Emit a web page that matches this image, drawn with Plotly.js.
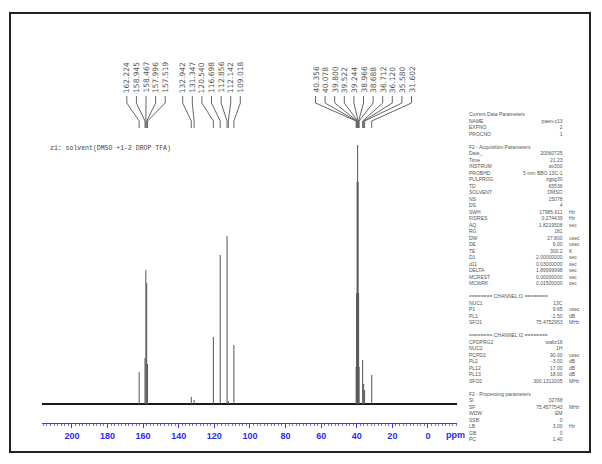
<!DOCTYPE html>
<html>
<head>
<meta charset="utf-8">
<script src="https://cdn.plot.ly/plotly-3.0.1.min.js"></script>
<style>html,body{margin:0;padding:0;background:#fff;}#plot{width:602px;height:464px;}</style>
</head>
<body>
<div id="plot"></div>
<script>
// ---- data ----
const specEdges = [216.8, -16.3];
const axisTicks = [200, 180, 160, 140, 120, 100, 80, 60, 40, 20, 0];
const axisTickText = ['200', '180', '160', '140', '120', '100', '80', '60', '40', '20', '0'];

const group1Ppm = [162.224, 158.945, 158.467, 157.996, 157.519];
const group1Int = [32, 46, 134, 121, 40];
const group2Ppm = [132.942, 131.347, 120.540, 116.698, 112.856, 112.142, 109.018];
const group2Int = [7, 4, 67, 149, 168, 3, 59];
const group3Ppm = [40.356, 40.078, 39.800, 39.522, 39.244, 38.966, 38.688, 36.712, 36.120, 35.580, 31.602];
const group3Int = [37, 111, 222, 259, 222, 111, 37, 44, 20, 14, 29];

const titleText = 'z1: solvent(DMSO +1-2 DROP TFA)';

const paramNames = ['Current Data Parameters','NAME','EXPNO','PROCNO','',
 'F2 - Acquisition Parameters','Date_','Time','INSTRUM','PROBHD','PULPROG','TD','SOLVENT','NS','DS','SWH','FIDRES','AQ','RG','DW','DE','TE','D1','d11','DELTA','MCREST','MCWRK','',
 '======== CHANNEL f1 ========','NUC1','P1','PL1','SFO1','',
 '======== CHANNEL f2 ========','CPDPRG2','NUC2','PCPD2','PL2','PL12','PL13','SFO2','',
 'F2 - Processing parameters','SI','SF','WDW','SSB','LB','GB','PC'];
const paramValues = ['','paen-c13','2','1','',
 '','20060725','21.23','av300','5 mm BBO 13C-1','zgpg30','65536','DMSO','15078','4','17985.611','0.274439','1.8219508','181','27.800','6.00','300.2','2.00000000','0.03000000','1.89999998','0.00000000','0.01500000','',
 '','13C','9.65','-1.50','75.4752953','',
 '','waltz16','1H','90.00','-3.00','17.00','18.00','300.1312005','',
 '','32768','75.4577543','EM','0','3.00','0','1.40'];
const paramUnits = ['','','','','',
 '','','','','','','','','','','Hz','Hz','sec','','usec','usec','K','sec','sec','sec','sec','sec','',
 '','','usec','dB','MHz','',
 '','','','usec','dB','dB','dB','MHz','',
 '','','MHz','','','Hz','',''];

// ---- layout geometry (pixels) ----
const W = 602, H = 464;
const L = 42, R = 457, T = 20, B = 423;
const baseY = 404;
const yRange = [-(B - baseY), baseY - T];
const px = x => (x - L) / (R - L);
const py = y => (B - y) / (B - T);
const pxToPpm = x => specEdges[0] - (x - L) * (specEdges[0] - specEdges[1]) / (R - L);
const pixY = y => baseY - y;

// ---- traces ----
const baseline = {
  x: specEdges.slice(), y: [0, 0], mode: 'lines', type: 'scatter',
  line: {color: '#1a1a1a', width: 2}, hoverinfo: 'skip'
};
const allPpm = group1Ppm.concat(group2Ppm, group3Ppm);
const allInt = group1Int.concat(group2Int, group3Int);
const sx = [], sy = [];
allPpm.forEach((p, i) => { sx.push(p, p, null); sy.push(0, allInt[i], null); });
const sticks = {
  x: sx, y: sy, mode: 'lines', type: 'scatter', connectgaps: false,
  line: {color: '#555', width: 1}, hoverinfo: 'skip'
};

// ---- peak label fans ----
const shapes = [];
const annotations = [];
const groups = [
  {ppm: group1Ppm, center: 146},
  {ppm: group2Ppm, center: 211.5},
  {ppm: group3Ppm, center: 363.5}
];
const spacing = 9.6;
const yLab = pixY(95), yA = pixY(103), yB = pixY(121), yC = pixY(128);
groups.forEach(g => {
  const n = g.ppm.length;
  g.ppm.forEach((p, i) => {
    const lx = pxToPpm(g.center + (i - (n - 1) / 2) * spacing);
    shapes.push({
      type: 'path', xref: 'x', yref: 'y',
      path: `M ${lx},${yLab - 1} L ${lx},${yA} L ${p},${yB} L ${p},${yC}`,
      line: {color: '#666', width: 1}
    });
    annotations.push({
      xref: 'x', yref: 'y', x: lx, y: yLab, text: p.toFixed(3),
      textangle: -90, xanchor: 'center', yanchor: 'bottom', showarrow: false,
      font: {family: 'DejaVu Sans', size: 7.5, color: '#555'}
    });
  });
});

// frame
shapes.push({
  type: 'rect', xref: 'paper', yref: 'paper',
  x0: px(10), x1: px(590), y0: py(452), y1: py(13),
  line: {color: '#222', width: 2}
});

annotations.push({
  xref: 'paper', yref: 'paper', x: px(48), y: py(148), text: titleText,
  xanchor: 'left', yanchor: 'middle', showarrow: false,
  font: {family: 'Liberation Mono', size: 6.5, color: '#444'}
});
annotations.push({
  xref: 'paper', yref: 'paper', x: px(444), y: py(435), text: 'ppm',
  xanchor: 'left', yanchor: 'middle', showarrow: false,
  font: {family: 'Liberation Sans', size: 9, color: '#2a2aff', weight: 'bold'}
});

const paramFont = {family: 'Liberation Sans', size: 5, color: '#555'};
const nb = s => s === '' ? ' ' : s;
annotations.push({
  xref: 'paper', yref: 'paper', x: px(467), y: py(109), text: paramNames.map(nb).join('<br>'),
  xanchor: 'left', yanchor: 'top', align: 'left', showarrow: false, font: paramFont
});
annotations.push({
  xref: 'paper', yref: 'paper', x: px(565), y: py(109), text: paramValues.map(nb).join('<br>'),
  xanchor: 'right', yanchor: 'top', align: 'right', showarrow: false, font: paramFont
});
annotations.push({
  xref: 'paper', yref: 'paper', x: px(567), y: py(109), text: paramUnits.map(nb).join('<br>'),
  xanchor: 'left', yanchor: 'top', align: 'left', showarrow: false, font: paramFont
});

const layout = {
  width: W, height: H,
  margin: {l: L, r: W - R, t: T, b: H - B, pad: 0},
  paper_bgcolor: '#ffffff', plot_bgcolor: '#ffffff',
  showlegend: false,
  xaxis: {
    range: specEdges.slice(), showgrid: false, zeroline: false,
    showline: true, linecolor: '#3a3aff', linewidth: 1,
    ticks: 'outside', ticklen: 4, tickcolor: '#3a3aff', tickwidth: 1,
    tickmode: 'array', tickvals: axisTicks, ticktext: axisTickText,
    tickfont: {family: 'Liberation Sans', size: 9, color: '#2a2aff', weight: 'bold'},
    minor: {tickmode: 'linear', tick0: 0, dtick: 2, ticks: 'outside', ticklen: 2, tickcolor: '#7070ff', showgrid: false},
    fixedrange: true
  },
  yaxis: {range: yRange, visible: false, fixedrange: true},
  shapes: shapes,
  annotations: annotations
};

Plotly.newPlot('plot', [baseline, sticks], layout, {displayModeBar: false, staticPlot: true});
</script>
</body>
</html>
